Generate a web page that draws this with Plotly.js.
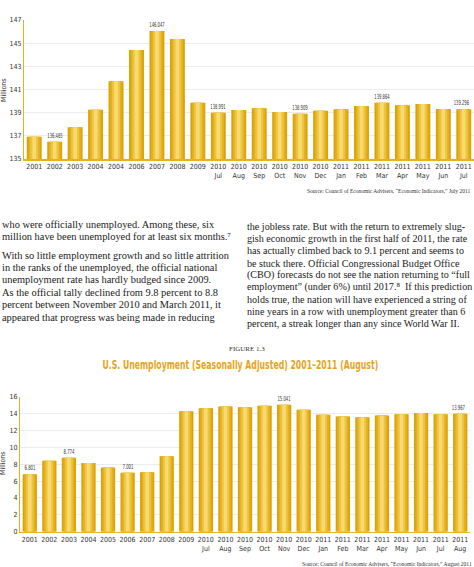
<!DOCTYPE html>
<html>
<head>
<meta charset="utf-8">
<script src="https://cdn.plot.ly/plotly-3.0.1.min.js"></script>
<style>
html,body{margin:0;padding:0;background:#fff;}
#chart{width:474px;height:567px;}
</style>
</head>
<body>
<div id="chart"></div>
<script>
// ---- Data: top chart (employment, millions) ----
const empLabels = ["2001","2002","2003","2004","2004","2006","2007","2008","2009",
  "2010<br>Jul","2010<br>Aug","2010<br>Sep","2010<br>Oct","2010<br>Nov","2010<br>Dec",
  "2011<br>Jan","2011<br>Feb","2011<br>Mar","2011<br>Apr","2011<br>May","2011<br>Jun","2011<br>Jul"];
const empValues = [136.93,136.485,137.74,139.26,141.71,144.41,146.047,145.36,139.86,
  138.991,139.24,139.38,139.06,138.909,139.17,139.29,139.58,139.864,139.64,139.75,139.32,139.296];
const empShown = ["","136.485","","","","","146.047","","","138.991","","","","138.909","","","","139.864","","","","139.296"];

// ---- Data: bottom chart (unemployment, millions) ----
const unLabels = ["2001","2002","2003","2004","2005","2006","2007","2008","2009",
  "2010<br>Jul","2010<br>Aug","2010<br>Sep","2010<br>Oct","2010<br>Nov","2010<br>Dec",
  "2011<br>Jan","2011<br>Feb","2011<br>Mar","2011<br>Apr","2011<br>May","2011<br>Jun","2011<br>Jul","2011<br>Aug"];
const unValues = [6.801,8.41,8.774,8.15,7.6,7.001,7.05,8.95,14.28,
  14.62,14.85,14.74,14.92,15.041,14.45,13.85,13.66,13.56,13.76,13.93,14.06,13.93,13.967];
const unShown = ["6.801","","8.774","","","7.001","","","","","","","","15.041","","","","","","","","","13.967"];

// ---- Text ----
const leftLines = [
  "who were officially unemployed. Among these, six",
  "million have been unemployed for at least six months.\u2077",
  "With so little employment growth and so little attrition",
  "in the ranks of the unemployed, the official national",
  "unemployment rate has hardly budged since 2009.",
  "As the official tally declined from 9.8 percent to 8.8",
  "percent between November 2010 and March 2011, it",
  "appeared that progress was being made in reducing"
];
const leftY = [224,237,255,267,279,292,304,317];
const rightLines = [
  "the jobless rate. But with the return to extremely slug-",
  "gish economic growth in the first half of 2011, the rate",
  "has actually climbed back to 9.1 percent and seems to",
  "be stuck there. Official Congressional Budget Office",
  "(CBO) forecasts do not see the nation returning to \u201cfull",
  "employment\u201d (under 6%) until 2017.\u2078  If this prediction",
  "holds true, the nation will have experienced a string of",
  "nine years in a row with unemployment greater than 6",
  "percent, a streak longer than any since World War II."
];
const rightY = [226,238,250,263,275,287,299,311,323];
const figureLabel = "FIGURE 1.3";
const chartTitle = "U.S. Unemployment (Seasonally Adjusted) 2001\u20132011 (August)";
const source1 = "Source: Council of Economic Advisers, \u201cEconomic Indicators,\u201d July 2011";
const source2 = "Source: Council of Economic Advisers, \u201cEconomic Indicators,\u201d August 2011";

// ---- Build ----
const W = 474, H = 567;
const py = v => 1 - v / H;
const sansN = "Liberation Sans Narrow, DejaVu Sans Condensed, Roboto, sans-serif";
const serif = "Liberation Serif, DejaVu Serif, serif";
const gold = "#E4B21E";

const layers = [
  {w:0.73, c:"#DBA208"},
  {w:0.56, c:"#E5B21F"},
  {w:0.38, c:"#EEC53F"},
  {w:0.18, c:"#F7DA74"}
];

const traces = [];
function addBars(vals, xa, ya){
  const xs = vals.map((_, i) => i);
  layers.forEach(l => {
    traces.push({type:"bar", x:xs, y:vals, xaxis:xa, yaxis:ya,
      width: vals.map(() => l.w), marker:{color:l.c, line:{width:0}},
      hoverinfo:"skip", showlegend:false});
  });
}
addBars(empValues, "x", "y");
addBars(unValues, "x2", "y2");

const annotations = [];
const squeeze = {}; // annotation index -> {w: target width px, anchor: 'center'|'right'}
function valueLabel(t, i, v, xa, ya, n){
  const w = t.length * 2.2;
  const last = (i === n - 1);
  squeeze[annotations.length] = {w: w, anchor: last ? "right" : "center"};
  annotations.push({xref:xa, yref:ya, x:i, y:v, text:t, showarrow:false,
    yanchor:"bottom", yshift:0,
    xanchor: last ? "right" : "center", align: last ? "right" : "center",
    xshift: last ? w/2 : 0,
    font:{family:sansN, size:7, color:"#333"}});
}
empShown.forEach((t, i) => { if (t) valueLabel(t, i, empValues[i], "x", "y", empShown.length); });
unShown.forEach((t, i) => { if (t) valueLabel(t, i, unValues[i], "x2", "y2", unShown.length); });

leftLines.forEach((t, i) => annotations.push({xref:"paper", yref:"paper", x:0, y:py(leftY[i]), text:t,
  xanchor:"left", yanchor:"middle", showarrow:false, font:{family:serif, size:10.4, color:"#1a1a1a"}}));
rightLines.forEach((t, i) => annotations.push({xref:"paper", yref:"paper", x:245/W, y:py(rightY[i]), text:t,
  xanchor:"left", yanchor:"middle", showarrow:false, font:{family:serif, size:10.1, color:"#1a1a1a"}}));

annotations.push({xref:"paper", yref:"paper", x:247/W, y:py(349), text:figureLabel, showarrow:false,
  xanchor:"center", yanchor:"middle", font:{family:serif, size:7, color:"#333"}});
squeeze[annotations.length] = {w: 276, anchor: "center"};
annotations.push({xref:"paper", yref:"paper", x:240/W, y:py(365),
  text:"<b>"+chartTitle+"</b>", showarrow:false,
  xanchor:"center", yanchor:"middle", font:{family:"DejaVu Sans, sans-serif", size:12, color:"#E8A31A"}});
annotations.push({xref:"paper", yref:"paper", x:472/W, y:py(191), text:source1, showarrow:false,
  xanchor:"right", yanchor:"middle", font:{family:serif, size:5.5, color:"#333"}});
annotations.push({xref:"paper", yref:"paper", x:474/W, y:py(564), text:source2, showarrow:false,
  xanchor:"right", yanchor:"middle", font:{family:serif, size:5.5, color:"#333"}});
annotations.push({xref:"paper", yref:"paper", x:4/W, y:py(90), text:"Millions", textangle:-90, showarrow:false,
  xanchor:"center", yanchor:"middle", font:{family:sansN, size:7, color:"#333"}});
annotations.push({xref:"paper", yref:"paper", x:3/W, y:py(463), text:"Millions", textangle:-90, showarrow:false,
  xanchor:"center", yanchor:"middle", font:{family:sansN, size:7, color:"#333"}});

const tickFont = {family:sansN, size:7, color:"#333"};
const layout = {
  width:W, height:H, margin:{l:0,r:0,t:0,b:0},
  paper_bgcolor:"#fff", plot_bgcolor:"#fff",
  barmode:"overlay", showlegend:false,
  xaxis:{domain:[24/W, 474/W], anchor:"y", range:[-0.5, empValues.length-0.5],
    tickmode:"array", tickvals:empLabels.map((_,i)=>i), ticktext:empLabels,
    showgrid:false, zeroline:false, showline:true, linecolor:gold, linewidth:1.5,
    ticks:"", tickfont:tickFont, fixedrange:true},
  yaxis:{domain:[py(159), py(20)], anchor:"x", range:[135,147], dtick:2, tick0:135,
    showgrid:true, gridcolor:"#ececec", gridwidth:1, zeroline:false,
    showline:true, linecolor:gold, linewidth:1, ticks:"", tickfont:tickFont, fixedrange:true},
  xaxis2:{domain:[20/W, 470/W], anchor:"y2", range:[-0.5, unValues.length-0.5],
    tickmode:"array", tickvals:unLabels.map((_,i)=>i), ticktext:unLabels,
    showgrid:false, zeroline:false, showline:true, linecolor:gold, linewidth:1.5,
    ticks:"", tickfont:tickFont, fixedrange:true},
  yaxis2:{domain:[py(531.7), py(396.7)], anchor:"x2", range:[0,16], dtick:2,
    showgrid:true, gridcolor:"#ececec", gridwidth:1, zeroline:false,
    showline:true, linecolor:gold, linewidth:1, ticks:"", tickfont:tickFont, fixedrange:true},
  annotations: annotations
};
Plotly.newPlot("chart", traces, layout, {staticPlot:true, displayModeBar:false}).then(gd => {
  Object.keys(squeeze).forEach(k => {
    const g = gd.querySelector('g.annotation[data-index="' + k + '"]');
    if (!g) return;
    const t = g.querySelector('text.annotation-text');
    if (!t) return;
    const b = t.getBBox();
    const s = squeeze[k].w / b.width;
    const cx = squeeze[k].anchor === "right" ? b.x + b.width : b.x + b.width / 2;
    const m = "matrix(" + s + ",0,0,1," + (cx * (1 - s)) + ",0)";
    t.setAttribute("transform", m);
    const r = g.querySelector('rect.bg');
    if (r) r.setAttribute("transform", m);
  });
});
</script>
</body>
</html>
